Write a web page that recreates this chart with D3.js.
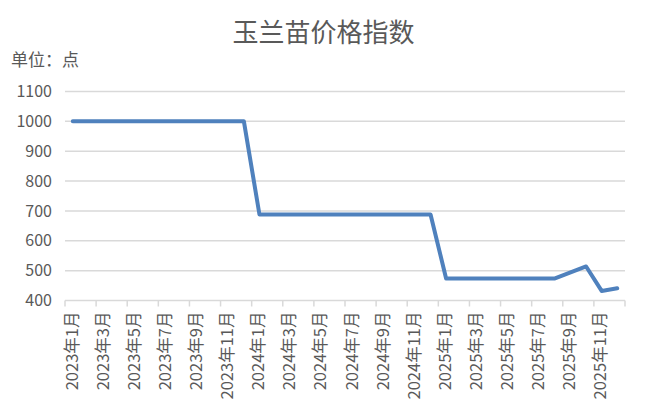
<!DOCTYPE html>
<html>
<head>
<meta charset="utf-8">
<script src="https://cdn.jsdelivr.net/npm/d3@7"></script>
<style>
  body { margin: 0; background: #fff; }
  text { font-family: "Noto Sans CJK SC", "Noto Sans", sans-serif; fill: #595959; }
</style>
</head>
<body>
<div id="wrapper"></div>
<script>
// data
const months = []
for (const y of [2023, 2024, 2025]) {
    for (let m = 1; m <= 12; m++) months.push(`${y}年${m}月`)
}
const priceIndex = [
    1000, 1000, 1000, 1000, 1000, 1000, 1000, 1000, 1000, 1000, 1000, 1000,
    688, 688, 688, 688, 688, 688, 688, 688, 688, 688, 688, 688,
    474, 474, 474, 474, 474, 474, 474, 474, 494, 514, 432, 441
]
const yTicks = [400, 500, 600, 700, 800, 900, 1000, 1100]

function drawChart() {
    let dimensions = {
        width: 648,
        height: 420,
        margin: { top: 91.5, right: 23, bottom: 119.5, left: 65 }
    }
    dimensions.boundedWidth = dimensions.width - dimensions.margin.left - dimensions.margin.right
    dimensions.boundedHeight = dimensions.height - dimensions.margin.top - dimensions.margin.bottom

    const wrapper = d3.select("#wrapper")
        .append("svg")
            .attr("width", dimensions.width)
            .attr("height", dimensions.height)

    // title + unit
    wrapper.append("text")
        .attr("x", 323.5)
        .attr("y", 42)
        .attr("text-anchor", "middle")
        .style("font-size", "26px")
        .text("玉兰苗价格指数")

    wrapper.append("text")
        .attr("x", 11)
        .attr("y", 66)
        .style("font-size", "17px")
        .text("单位：点")

    const bounds = wrapper.append("g")
        .attr("transform", `translate(${dimensions.margin.left},${dimensions.margin.top})`)

    // scales
    const xScale = d3.scaleBand()
        .domain(months)
        .range([0, dimensions.boundedWidth])
        .padding(0)

    const yScale = d3.scaleLinear()
        .domain([400, 1100])
        .range([dimensions.boundedHeight, 0])

    // gridlines
    bounds.append("g")
        .selectAll("line")
        .data(yTicks.slice(1))
        .join("line")
            .attr("x1", 0)
            .attr("x2", dimensions.boundedWidth)
            .attr("y1", d => yScale(d))
            .attr("y2", d => yScale(d))
            .attr("stroke", "#d9d9d9")
            .attr("stroke-width", 1.5)

    // y axis labels
    const yAxis = bounds.append("g")
        .call(d3.axisLeft(yScale).tickValues(yTicks).tickFormat(d3.format("d")).tickSize(0).tickPadding(13))
    yAxis.select(".domain").remove()
    yAxis.selectAll("text")
        .style("font-size", "16px")
        .style("fill", "#595959")

    // x axis: ticks at category boundaries every 2 months
    const xAxis = bounds.append("g")
        .attr("transform", `translate(0,${dimensions.boundedHeight})`)
    xAxis.append("line")
        .attr("x1", 0)
        .attr("x2", dimensions.boundedWidth)
        .attr("stroke", "#d9d9d9")
        .attr("stroke-width", 1.5)
    const boundaries = months.filter((d, i) => i % 2 == 0).map(d => xScale(d))
    boundaries.push(dimensions.boundedWidth)
    xAxis.selectAll(".tick-mark")
        .data(boundaries)
        .join("line")
            .attr("class", "tick-mark")
            .attr("x1", d => d)
            .attr("x2", d => d)
            .attr("y1", 0)
            .attr("y2", 6)
            .attr("stroke", "#d9d9d9")
            .attr("stroke-width", 1.5)
    xAxis.selectAll(".label")
        .data(months.filter((d, i) => i % 2 == 0))
        .join("text")
            .attr("class", "label")
            .attr("transform", d => `translate(${xScale(d) + xScale.bandwidth() / 2 - 1},11) rotate(-90)`)
            .attr("text-anchor", "end")
            .attr("dy", "0.35em")
            .style("font-size", "16.5px")
            .text(d => d)

    // line
    const lineGenerator = d3.line()
        .x((d, i) => xScale(months[i]) + xScale.bandwidth() / 2)
        .y(d => yScale(d))

    bounds.append("path")
        .attr("d", lineGenerator(priceIndex))
        .attr("fill", "none")
        .attr("stroke", "#4f81bd")
        .attr("stroke-width", 4)
        .attr("stroke-linejoin", "round")
        .attr("stroke-linecap", "round")
}

drawChart()
</script>
</body>
</html>
